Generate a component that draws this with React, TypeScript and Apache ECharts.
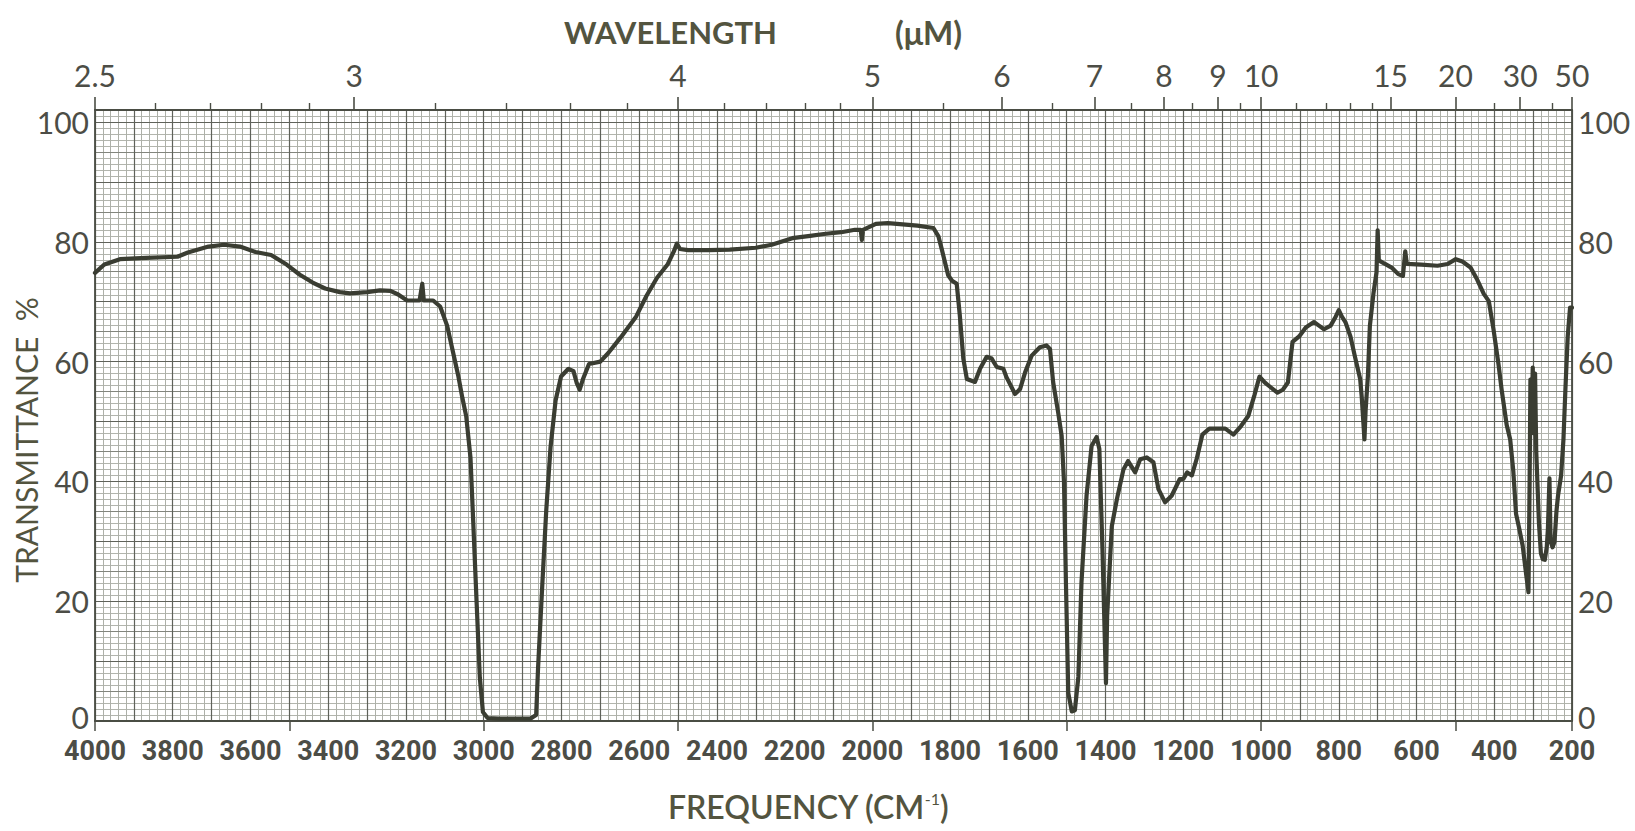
import React, { useEffect, useRef } from "react";
import * as echarts from "echarts";

// ---- Spectrum data: wavenumber (cm-1) and % transmittance ----
const freqA = [4000, 3976, 3936, 3869, 3788, 3761, 3708, 3668, 3627, 3587, 3547, 3507, 3473, 3440, 3408, 3370, 3344, 3300, 3267, 3240, 3220, 3197, 3165, 3158, 3154, 3130, 3112, 3094, 3079, 3065, 3055, 3045, 3034, 3027, 3018, 3010, 3002, 2990, 2960, 2920, 2880, 2865, 2860, 2849, 2839, 2828, 2815, 2801, 2782, 2769, 2761, 2753, 2745, 2729, 2700, 2680, 2648, 2608, 2581, 2554, 2527, 2510, 2503, 2495, 2474, 2420, 2367, 2300, 2259, 2206, 2160, 2125, 2080, 2045, 2030, 2027, 2024];
const transA = [74.8, 76.2, 77.1, 77.3, 77.5, 78.2, 79.2, 79.5, 79.2, 78.3, 77.8, 76.2, 74.5, 73.2, 72.2, 71.6, 71.4, 71.6, 71.9, 71.8, 71.2, 70.2, 70.2, 73.0, 70.2, 70.2, 69.2, 66.0, 61.6, 57.5, 54.0, 50.9, 44.0, 33.4, 19.5, 7.3, 1.5, 0.5, 0.4, 0.4, 0.4, 1.0, 9.0, 23.0, 35.2, 45.7, 53.5, 57.5, 58.8, 58.4, 56.5, 55.3, 57.0, 59.6, 60.0, 61.4, 64.0, 67.5, 71.0, 74.0, 76.2, 78.5, 79.7, 78.8, 78.6, 78.6, 78.7, 79.0, 79.5, 80.6, 81.0, 81.3, 81.6, 82.0, 82.0, 80.3, 82.0];

const freqB = [1991, 1960, 1937, 1884, 1843, 1830, 1822, 1805, 1795, 1783, 1775, 1766, 1757, 1736, 1723, 1706, 1693, 1680, 1663, 1655, 1633, 1620, 1607, 1590, 1569, 1552, 1543, 1535, 1522, 1513, 1507, 1502, 1496, 1487, 1479, 1470, 1462, 1449, 1436, 1423, 1416, 1408, 1399, 1396, 1384, 1371, 1354, 1342, 1324, 1311];
const transB = [83.0, 83.1, 83.0, 82.7, 82.3, 80.9, 78.9, 74.4, 73.5, 73.0, 67.7, 60.5, 57.1, 56.6, 58.8, 60.8, 60.5, 59.1, 58.8, 57.4, 54.6, 55.4, 58.2, 61.0, 62.4, 62.7, 62.1, 56.6, 51.5, 47.6, 39.9, 23.1, 4.7, 1.6, 1.8, 7.4, 23.1, 37.6, 45.9, 47.4, 45.4, 28.6, 6.3, 17.5, 32.5, 37.0, 42.0, 43.4, 41.5, 43.7];

const freqC = [1294, 1277, 1264, 1247, 1230, 1209, 1200, 1190, 1178, 1165, 1151, 1133, 1092, 1071, 1052, 1033, 1017, 1004, 990, 977, 958, 944, 931, 919, 902, 885, 864, 851, 838, 821, 808, 800, 792, 783, 770, 758, 745, 741, 734, 731, 725, 720, 711, 703];
const transC = [44.0, 43.2, 38.7, 36.5, 37.6, 40.4, 40.4, 41.5, 41.0, 43.9, 47.8, 48.8, 48.8, 47.8, 49.2, 50.9, 54.4, 57.5, 56.5, 55.8, 54.8, 55.3, 56.5, 63.3, 64.2, 65.7, 66.6, 66.0, 65.4, 66.0, 67.5, 68.6, 67.5, 66.6, 64.2, 60.7, 57.1, 54.1, 47.0, 51.8, 57.7, 66.0, 71.3, 74.9];

const freqD = [700, 697, 681, 664, 647, 635, 629, 625, 588, 546, 520, 499, 482, 461, 444, 427, 414, 402, 389, 381, 368, 359, 351, 344, 336, 327, 317, 312, 309, 307, 304, 301, 298, 295, 292, 285, 280, 275, 270, 265, 262, 258, 255, 250, 245, 240, 236, 228, 222, 217, 211, 205, 200];
const transD = [81.9, 76.9, 76.3, 75.7, 74.6, 74.3, 78.4, 76.3, 76.2, 76.0, 76.3, 77.1, 76.7, 75.7, 73.7, 71.3, 70.1, 65.4, 59.5, 55.3, 49.4, 47.0, 41.7, 34.6, 32.2, 29.3, 24.0, 21.5, 40, 57, 49, 59, 48, 58, 45, 33, 28, 27, 26.9, 29, 32, 40.5, 30, 29, 29.9, 35, 37.6, 41, 47, 55.3, 64.2, 69, 69];

// ---- Axis ticks / labels ----
const wavelengthMajor = [2.5, 3, 4, 5, 6, 7, 8, 9, 10, 15, 20, 30, 50];
const wavelengthMinor = [2.6, 2.7, 2.8, 2.9, 3.2, 3.4, 3.6, 3.8, 4.2, 4.4, 4.6, 4.8, 5.5, 6.5, 7.5, 8.5, 9.5, 11, 12, 13, 14, 25, 40];
const frequencyTickMarks = [4000, 3500, 3000, 2500, 2000, 1500, 1000, 500, 200];
const transmittanceLabels = [0, 20, 40, 60, 80, 100];

const TEXT = "#4c4d46";
const TITLE = "#53543f";
const FRAME = "#4a4d44";
const numFont = "Lato, 'Noto Sans', sans-serif";
const condFont = "Roboto, 'Liberation Sans Narrow', sans-serif";

export default function App() {
  const ref = useRef<HTMLDivElement>(null);

  useEffect(() => {
    if (!ref.current) return;
    const chart = echarts.init(ref.current, undefined, { renderer: "svg" });

    const freqs = [...freqA, ...freqB, ...freqC, ...freqD];
    const trans = [...transA, ...transB, ...transC, ...transD];
    const data = freqs.map((f, i) => [f, trans[i]]);

    const toFreq = (lam: number) => 10000 / lam;
    const lamLabel = (v: number) => {
      const lam = 10000 / v;
      let best = wavelengthMajor[0];
      wavelengthMajor.forEach((m) => {
        if (Math.abs(m - lam) < Math.abs(best - lam)) best = m;
      });
      return String(best);
    };
    const yLabel = (v: number) => {
      if (transmittanceLabels.indexOf(v) < 0) return "";
      return v === 0 ? "{z|0}" : String(v);
    };
    const yRich = {
      z: { fontFamily: numFont, fontSize: 30, color: TEXT, lineHeight: 22, padding: [0, 0, 8, 0] },
    };

    const xBase = { type: "value", min: 200, max: 4000, inverse: true, gridIndex: 0 };
    const yBase = { type: "value", min: 0, max: 102, gridIndex: 0 };
    const hidden = {
      axisLine: { show: false },
      axisTick: { show: false },
      axisLabel: { show: false },
    };

    const option: any = {
      animation: false,
      backgroundColor: "#ffffff",
      grid: { left: 95, right: 63, top: 110, bottom: 110, containLabel: false },
      xAxis: [
        {
          ...xBase,
          position: "bottom",
          interval: 100,
          z: 2,
          axisLine: { show: true, onZero: false, lineStyle: { color: FRAME, width: 1.8 } },
          axisTick: { show: false },
          axisLabel: {
            show: true,
            margin: 18,
            color: TEXT,
            fontFamily: condFont,
            fontWeight: "bold",
            fontSize: 27,
            lineHeight: 24,
            formatter: (v: number) => (v % 200 === 0 ? String(v) : ""),
          },
          splitLine: { show: true, lineStyle: { color: "#5f625a", width: 1.2 } },
        },
        {
          ...xBase,
          position: "bottom",
          interval: 20,
          z: 0,
          ...hidden,
          splitLine: { show: true, lineStyle: { color: "#adb0a8", width: 1 } },
        },
        {
          ...xBase,
          position: "bottom",
          z: 2,
          axisLine: { show: false, onZero: false },
          axisLabel: { show: false },
          splitLine: { show: false },
          axisTick: {
            show: true,
            inside: false,
            length: 10,
            customValues: frequencyTickMarks,
            lineStyle: { color: FRAME, width: 1.5 },
          },
        },
        {
          ...xBase,
          position: "top",
          z: 2,
          axisLine: { show: true, onZero: false, lineStyle: { color: FRAME, width: 1.8 } },
          axisTick: {
            show: true,
            inside: false,
            length: 13,
            customValues: wavelengthMajor.map(toFreq),
            lineStyle: { color: FRAME, width: 1.6 },
          },
          axisLabel: {
            show: true,
            margin: 20,
            color: TEXT,
            fontFamily: numFont,
            fontSize: 30,
            customValues: wavelengthMajor.map(toFreq),
            formatter: lamLabel,
          },
          splitLine: { show: false },
        },
        {
          ...xBase,
          position: "top",
          z: 2,
          axisLine: { show: false, onZero: false },
          axisLabel: { show: false },
          splitLine: { show: false },
          axisTick: {
            show: true,
            inside: false,
            length: 7,
            customValues: wavelengthMinor.map(toFreq),
            lineStyle: { color: FRAME, width: 1.4 },
          },
        },
      ],
      yAxis: [
        {
          ...yBase,
          position: "left",
          interval: 10,
          z: 2,
          axisLine: { show: true, onZero: false, lineStyle: { color: FRAME, width: 1.8 } },
          axisTick: { show: false },
          axisLabel: {
            show: true,
            margin: 6,
            color: TEXT,
            fontFamily: numFont,
            fontSize: 30,
            lineHeight: 24,
            formatter: yLabel,
            rich: yRich,
          },
          splitLine: { show: true, lineStyle: { color: "#5f625a", width: 1.2 } },
        },
        {
          ...yBase,
          position: "left",
          interval: 1,
          z: 0,
          ...hidden,
          splitLine: { show: true, lineStyle: { color: "#b2b5ad", width: 1 } },
        },
        {
          ...yBase,
          position: "left",
          interval: 5,
          z: 1,
          ...hidden,
          splitLine: { show: true, lineStyle: { color: "#82857d", width: 1 } },
        },
        {
          ...yBase,
          position: "right",
          interval: 10,
          z: 2,
          axisLine: { show: true, onZero: false, lineStyle: { color: FRAME, width: 1.8 } },
          axisTick: { show: false },
          axisLabel: {
            show: true,
            margin: 6,
            color: TEXT,
            fontFamily: numFont,
            fontSize: 30,
            lineHeight: 24,
            formatter: yLabel,
            rich: yRich,
          },
          splitLine: { show: false },
        },
      ],
      series: [
        {
          type: "line",
          xAxisIndex: 0,
          yAxisIndex: 0,
          data,
          showSymbol: false,
          symbol: "none",
          silent: true,
          z: 10,
          lineStyle: { color: "#3a3d32", width: 4.2, join: "round", cap: "round" },
        },
      ],
      graphic: [
        {
          type: "text",
          x: 564,
          y: 32,
          style: {
            text: "WAVELENGTH",
            fill: TITLE,
            fontFamily: numFont,
            fontWeight: "bold",
            fontSize: 31,
            align: "left",
            verticalAlign: "middle",
          },
        },
        {
          type: "text",
          x: 895,
          y: 32,
          style: {
            text: "(μM)",
            fill: TITLE,
            fontFamily: numFont,
            fontWeight: "bold",
            fontSize: 32,
            align: "left",
            verticalAlign: "middle",
          },
        },
        {
          type: "text",
          x: 808,
          y: 806,
          style: {
            text: "{a|FREQUENCY (CM}{b|-1}{a|)}",
            align: "center",
            verticalAlign: "middle",
            rich: {
              a: { fontFamily: numFont, fontSize: 32, fill: TITLE, fontWeight: 600 },
              b: { fontFamily: numFont, fontSize: 16, fill: TITLE, verticalAlign: "top" },
            },
          },
        },
        {
          type: "text",
          x: 26,
          y: 440,
          rotation: Math.PI / 2,
          style: {
            text: "TRANSMITTANCE  %",
            fill: TITLE,
            fontFamily: numFont,
            fontSize: 30,
            align: "center",
            verticalAlign: "middle",
          },
        },
      ],
    };

    chart.setOption(option);
    return () => chart.dispose();
  }, []);

  return (
    <div
      ref={ref}
      style={{ position: "fixed", left: 0, top: 0, width: 1635, height: 831, background: "#ffffff" }}
    />
  );
}
